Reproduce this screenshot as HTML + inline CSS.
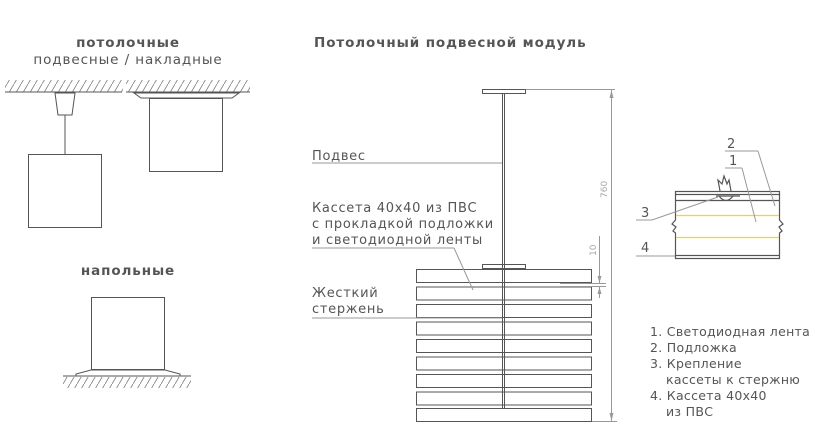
<!DOCTYPE html>
<html><head><meta charset="utf-8"><style>
html,body{margin:0;padding:0;background:#fff;}
svg{display:block;}
text{font-family:"DejaVu Sans","Liberation Sans",sans-serif;fill:#555;}
.t{font-size:13.5px;letter-spacing:0.9px;}
.l{font-size:13px;letter-spacing:0.7px;}
.g{font-size:12.5px;letter-spacing:0.3px;}
</style></head><body>
<svg width="815" height="446" viewBox="0 0 815 446" xmlns="http://www.w3.org/2000/svg">
<defs>
<pattern id="h" width="7" height="12" patternUnits="userSpaceOnUse">
<line x1="0" y1="12" x2="7" y2="0" stroke="#777" stroke-width="0.8"/>
</pattern>
</defs>
<text x="128" y="47" class="t" font-weight="bold" text-anchor="middle">потолочные</text>
<text x="128" y="64" class="t" text-anchor="middle">подвесные / накладные</text>
<rect x="5" y="80" width="118" height="12" fill="url(#h)"/>
<rect x="126" y="80" width="124" height="12" fill="url(#h)"/>
<line x1="5" y1="92" x2="122" y2="92" stroke="#555" stroke-width="1"/>
<line x1="126" y1="92" x2="250" y2="92" stroke="#555" stroke-width="1"/>
<polygon points="55,93 75,93 72,115 58,115" fill="#fff" stroke="#555"/>
<line x1="65" y1="115" x2="65" y2="154" stroke="#555"/>
<rect x="28.5" y="154.5" width="73" height="73" fill="#fff" stroke="#555"/>
<path d="M134,93 L239,93 L232,98 L141,98 Z" fill="#fff" stroke="#555"/>
<rect x="149.5" y="98.5" width="73" height="73" fill="#fff" stroke="#555"/>
<text x="128" y="275" class="t" font-weight="bold" text-anchor="middle">напольные</text>
<rect x="91.5" y="297.5" width="73" height="72" fill="#fff" stroke="#555"/>
<path d="M76,376 L180,376 L180,374 L165,370 L91,370 L76,374 Z" fill="#fff" stroke="#555"/>
<line x1="63" y1="376" x2="191" y2="376" stroke="#555"/>
<rect x="63" y="377" width="128" height="22" fill="url(#h)"/>
<rect x="55" y="388" width="150" height="20" fill="#fff"/>
<text x="314" y="47" class="t" font-weight="bold">Потолочный подвесной модуль</text>
<rect x="482.5" y="89.5" width="43" height="4" fill="#fff" stroke="#555"/>
<rect x="482.5" y="264.5" width="43" height="4" fill="#fff" stroke="#555"/>
<g fill="none" stroke="#555">
<rect x="416.5" y="269.5" width="175" height="13"/>
<rect x="416.5" y="287" width="175" height="13"/>
<rect x="416.5" y="304.5" width="175" height="13"/>
<rect x="416.5" y="322" width="175" height="13"/>
<rect x="416.5" y="339.5" width="175" height="13"/>
<rect x="416.5" y="357" width="175" height="13"/>
<rect x="416.5" y="374.5" width="175" height="13"/>
<rect x="416.5" y="392" width="175" height="13"/>
<rect x="416.5" y="408.5" width="175" height="13"/>
</g>
<line x1="502.5" y1="94" x2="502.5" y2="408" stroke="#555"/>
<line x1="504.5" y1="94" x2="504.5" y2="408" stroke="#555"/>
<text x="312" y="160" class="l">Подвес</text>
<line x1="312" y1="163" x2="502" y2="163" stroke="#999"/>
<text x="312" y="212" class="l">Кассета 40x40 из ПВС</text>
<text x="312" y="228" class="l">с прокладкой подложки</text>
<text x="312" y="244" class="l">и светодиодной ленты</text>
<line x1="312" y1="248" x2="454" y2="248" stroke="#999"/>
<line x1="454" y1="248" x2="473" y2="290" stroke="#999"/>
<text x="312" y="297" class="l">Жесткий</text>
<text x="312" y="313" class="l">стержень</text>
<line x1="312" y1="318" x2="502" y2="318" stroke="#999"/>
<g stroke="#999" fill="none">
<line x1="526" y1="89.5" x2="615" y2="89.5"/>
<line x1="592" y1="421.5" x2="617" y2="421.5"/>
<line x1="611.5" y1="90" x2="611.5" y2="421"/>
<line x1="599.5" y1="236" x2="599.5" y2="283"/>
<line x1="599.5" y1="287" x2="599.5" y2="298"/>
<line x1="560" y1="283.5" x2="606" y2="283.5"/>
<line x1="560" y1="286.5" x2="606" y2="286.5"/>
</g>
<g fill="#999">
<polygon points="611.5,90 609.5,98 613.5,98"/>
<polygon points="611.5,421 609.5,413 613.5,413"/>
<polygon points="599.5,283 597.5,276 601.5,276"/>
<polygon points="599.5,287 597.5,294 601.5,294"/>
</g>
<text font-size="9" transform="translate(607,198) rotate(-90)" style="fill:#aaa">760</text>
<text font-size="9" transform="translate(596,256) rotate(-90)" style="fill:#aaa">10</text>
<g stroke="#555" fill="none" stroke-width="1.2">
<rect x="675.5" y="191.5" width="104" height="3"/>
<line x1="675" y1="200.5" x2="780" y2="200.5"/>
<path d="M675.5,194 V220 L672,224 L676,227 L673,231 L675.5,233 V255"/>
<path d="M779.5,194 V220 L783,224 L779,227 L782,231 L779.5,233 V255"/>
<rect x="675.5" y="255.5" width="104" height="3"/>
<path d="M720,191 L718,180 L722,184 L724,176 L727,184 L729,180 L731,191"/>
<path d="M716,196 L740,196"/>
<path d="M719,196 Q726,205 733,196"/>
</g>
<line x1="676" y1="215.5" x2="779" y2="215.5" stroke="#f0e000" stroke-width="1.2"/>
<line x1="676" y1="237.5" x2="779" y2="237.5" stroke="#f0e000" stroke-width="1.2"/>
<g stroke="#999" fill="none">
<line x1="725" y1="151" x2="758" y2="151"/><line x1="758" y1="151" x2="775" y2="206"/>
<line x1="725" y1="168" x2="742" y2="168"/><line x1="742" y1="168" x2="756" y2="222"/>
<line x1="636" y1="220" x2="652" y2="220"/><line x1="652" y1="220" x2="718" y2="197"/>
<line x1="636" y1="256" x2="675" y2="256"/>
</g>
<text x="727" y="148" font-size="13">2</text>
<text x="729" y="165" font-size="13">1</text>
<text x="641" y="217" font-size="13">3</text>
<text x="641" y="252" font-size="13">4</text>
<g class="g">
<text x="650" y="336">1. Светодиодная лента</text>
<text x="650" y="352">2. Подложка</text>
<text x="650" y="368">3. Крепление</text>
<text x="666" y="384">кассеты к стержню</text>
<text x="650" y="400">4. Кассета 40x40</text>
<text x="666" y="416">из ПВС</text>
</g>
</svg>
</body></html>
